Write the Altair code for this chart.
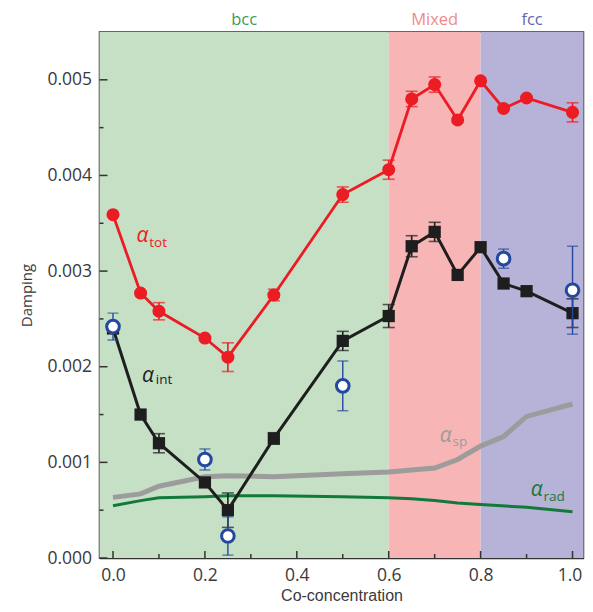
import altair as alt
import pandas as pd

# ---- data ----
x_tot = [0.0, 0.06, 0.1, 0.2, 0.25, 0.35, 0.5, 0.6, 0.65, 0.7, 0.75, 0.8, 0.85, 0.9, 1.0]
a_tot = [0.00359, 0.00277, 0.00258, 0.00230, 0.00210, 0.00275, 0.00380, 0.00406,
         0.00480, 0.00495, 0.00458, 0.00499, 0.00470, 0.00481, 0.00466]
a_tot_err = [0, 0, 0.00009, 0, 0.00015, 0.00006, 0.00008, 0.00010,
             0.00008, 0.00008, 0, 0, 0, 0, 0.00010]

x_int = [0.0, 0.06, 0.1, 0.2, 0.25, 0.35, 0.5, 0.6, 0.65, 0.7, 0.75, 0.8, 0.85, 0.9, 1.0]
a_int = [0.00240, 0.00150, 0.00120, 0.00079, 0.00050, 0.00125, 0.00227, 0.00253,
         0.00326, 0.00341, 0.00296, 0.00325, 0.00287, 0.00279, 0.00256]
a_int_err = [0, 0, 0.00010, 0, 0.00018, 0.00006, 0.00010, 0.00012,
             0.00011, 0.00010, 0, 0, 0, 0, 0.00015]

x_exp = [0.0, 0.2, 0.25, 0.5, 0.85, 1.0]
a_exp = [0.00242, 0.00103, 0.00023, 0.00180, 0.00313, 0.00280]
a_exp_err = [0.00014, 0.00011, 0.00020, 0.00026, 0.00010, 0.00046]

x_sp = [0.0, 0.06, 0.1, 0.2, 0.25, 0.35, 0.5, 0.6, 0.7, 0.75, 0.8, 0.85, 0.9, 1.0]
a_sp = [0.000634, 0.00067, 0.00075, 0.00085, 0.00086, 0.00085, 0.00088, 0.00090,
        0.00094, 0.00103, 0.00117, 0.00127, 0.00148, 0.00161]

x_rad = [0.0, 0.06, 0.1, 0.2, 0.25, 0.35, 0.5, 0.6, 0.65, 0.7, 0.75, 0.8, 0.9, 1.0]
a_rad = [0.000547, 0.00060, 0.00063, 0.00064, 0.00065, 0.00065, 0.00064, 0.00063,
         0.00062, 0.00060, 0.000575, 0.00056, 0.00053, 0.000484]

phase_names = ["bcc", "Mixed", "fcc"]
phase_start = [-0.0294, 0.6, 0.8]
phase_end = [0.6, 0.8, 1.0239]
phase_fill = ["#c6e0c6", "#f7b5b5", "#b7b3d8"]
phase_text = ["#3a9a5a", "#f08a8a", "#6666b0"]

x_major = [0.0, 0.2, 0.4, 0.6, 0.8, 1.0]
x_minor = [0.1, 0.3, 0.5, 0.7, 0.9]
y_major = [0.0, 0.001, 0.002, 0.003, 0.004, 0.005]
y_minor = [0.0005, 0.0015, 0.0025, 0.0035, 0.0045]

W, H = 484, 526
XD = [-0.0294, 1.0239]
YD = [0.0, 0.0055]
FONT = "Open Sans"

xs = alt.Scale(domain=XD, nice=False, zero=False)
ys = alt.Scale(domain=YD, nice=False, zero=False)

x_axis = alt.Axis(values=x_major, format=".1f", title="Co-concentration",
                  labelOffset={"condition": {"test": "datum.value >= 0.99", "value": -3}, "value": 0})
y_axis = alt.Axis(values=y_major, format=".3f", title="Damping")

X = lambda f="x": alt.X(f"{f}:Q", scale=xs, axis=x_axis)
Y = lambda f="y": alt.Y(f"{f}:Q", scale=ys, axis=y_axis)


def df_err(xv, yv, ev):
    d = pd.DataFrame({"x": xv, "y": yv, "e": ev})
    d = d[d.e > 0].copy()
    d["lo"] = d.y - d.e
    d["hi"] = d.y + d.e
    return d


phases = pd.DataFrame({"name": phase_names, "x0": phase_start, "x1": phase_end,
                       "fill": phase_fill, "tc": phase_text})
bg = alt.Chart(phases).mark_rect(opacity=1).encode(
    x=X("x0"), x2="x1", y=alt.value(0), y2=alt.value(H),
    color=alt.Color("fill:N", scale=None))
ptxt = alt.Chart(phases).transform_calculate(mx="(datum.x0 + datum.x1) / 2").mark_text(
    font=FONT, fontSize=16.5, baseline="alphabetic", align="center").encode(
    x=alt.X("mx:Q", scale=xs), y=alt.value(-7), text="name:N",
    color=alt.Color("tc:N", scale=None))

sp = alt.Chart(pd.DataFrame({"x": x_sp, "y": a_sp})).mark_line(
    color="#9c9c9c", strokeWidth=5).encode(x=X(), y=Y())
rad = alt.Chart(pd.DataFrame({"x": x_rad, "y": a_rad})).mark_line(
    color="#12793a", strokeWidth=3).encode(x=X(), y=Y())


def errbars(xv, yv, ev, color, w=1.6, cap=12):
    d = df_err(xv, yv, ev)
    base = alt.Chart(d)
    r = base.mark_rule(color=color, strokeWidth=w).encode(x=X(), y=Y("lo"), y2="hi")
    c1 = base.mark_tick(color=color, orient="horizontal", size=cap, thickness=w).encode(x=X(), y=Y("lo"))
    c2 = base.mark_tick(color=color, orient="horizontal", size=cap, thickness=w).encode(x=X(), y=Y("hi"))
    return r + c1 + c2


tot_df = pd.DataFrame({"x": x_tot, "y": a_tot})
tot_line = alt.Chart(tot_df).mark_line(color="#ec1c24", strokeWidth=2.8).encode(x=X(), y=Y())
tot_pts = alt.Chart(tot_df).mark_point(shape="circle", filled=True, color="#ec1c24",
                                       size=170, opacity=1).encode(x=X(), y=Y())

int_df = pd.DataFrame({"x": x_int, "y": a_int})
int_line = alt.Chart(int_df).mark_line(color="#1e1e1e", strokeWidth=3).encode(x=X(), y=Y())
int_pts = alt.Chart(int_df).mark_point(shape="square", filled=True, color="#1e1e1e",
                                       size=150, opacity=1).encode(x=X(), y=Y())

exp_df = pd.DataFrame({"x": x_exp, "y": a_exp})
exp_pts = alt.Chart(exp_df).mark_point(shape="circle", filled=True, fill="white",
                                       stroke="#2448a0", strokeWidth=3, size=160,
                                       opacity=1).encode(x=X(), y=Y())

# inward ticks
xt_major = alt.Chart(pd.DataFrame({"x": x_major})).mark_rule(color="#333", strokeWidth=1.5).encode(
    x=X(), y=alt.value(H), y2=alt.value(H - 7))
xt_minor = alt.Chart(pd.DataFrame({"x": x_minor})).mark_rule(color="#333", strokeWidth=1.5).encode(
    x=X(), y=alt.value(H), y2=alt.value(H - 4))
yt_major = alt.Chart(pd.DataFrame({"y": y_major})).mark_rule(color="#333", strokeWidth=1.5).encode(
    y=Y(), x=alt.value(0), x2=alt.value(8))
yt_minor = alt.Chart(pd.DataFrame({"y": y_minor})).mark_rule(color="#333", strokeWidth=1.5).encode(
    y=Y(), x=alt.value(0), x2=alt.value(4))

# series labels
lab_sym = pd.DataFrame({
    "x": [0.051, 0.063, 0.711, 0.909],
    "y": [0.00330, 0.001836, 0.001209, 0.000651],
    "t": ["α", "α", "α", "α"],
    "c": ["#ec1c24", "#1e1e1e", "#9c9c9c", "#12793a"],
})
lab_sub = pd.DataFrame({
    "x": [0.079, 0.093, 0.739, 0.937],
    "y": [0.00325, 0.001818, 0.001174, 0.000599],
    "t": ["tot", "int", "sp", "rad"],
    "c": ["#ec1c24", "#1e1e1e", "#9c9c9c", "#12793a"],
})
sym = alt.Chart(lab_sym).mark_text(font=FONT, fontSize=21, fontStyle="italic", align="left",
                                   baseline="alphabetic").encode(
    x=X(), y=Y(), text="t:N", color=alt.Color("c:N", scale=None))
sub = alt.Chart(lab_sub).mark_text(font=FONT, fontSize=13.5, align="left",
                                   baseline="alphabetic").encode(
    x=X(), y=Y(), text="t:N", color=alt.Color("c:N", scale=None))

chart = alt.layer(
    bg, ptxt, sp, rad,
    errbars(x_tot, a_tot, a_tot_err, "#ec1c24"),
    tot_line, tot_pts,
    errbars(x_int, a_int, a_int_err, "#1e1e1e"),
    int_line, int_pts,
    errbars(x_exp, a_exp, a_exp_err, "#2448a0", w=1.4, cap=11),
    exp_pts,
    xt_major, xt_minor, yt_major, yt_minor,
    sym, sub,
).properties(
    width=W, height=H,
    autosize=alt.AutoSizeParams(type="none"),
    padding={"left": 91.5, "top": 24, "right": 1, "bottom": 46},
).configure_view(
    stroke="#333", strokeWidth=1.5
).configure_axis(
    ticks=False, grid=False, domainColor="#333", domainWidth=1.5,
    labelFont=FONT, labelFontSize=17.5, labelColor="#3a3a3a", labelPadding=8,
    titleFont=FONT, titleColor="#3a3a3a", titleFontWeight="normal",
).configure_axisX(
    titleFont="Liberation Sans", titleFontSize=16, titlePadding=3.9,
).configure_axisY(
    titleFontSize=15, titlePadding=12,
)

chart.save("out.html", embed_options={"renderer": "svg", "actions": False})
